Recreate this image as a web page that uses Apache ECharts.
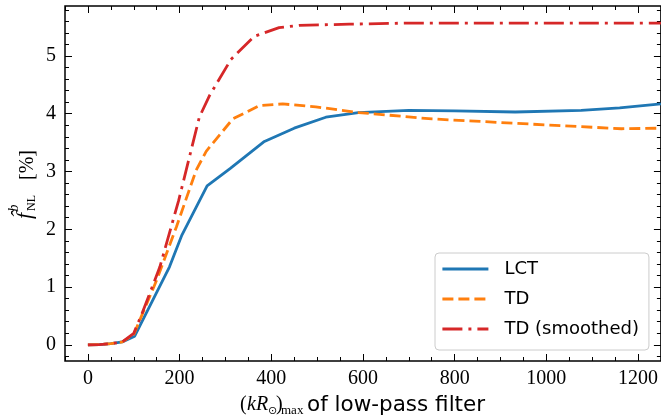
<!DOCTYPE html>
<html><head><meta charset="utf-8">
<script src="https://cdn.jsdelivr.net/npm/echarts@6/dist/echarts.min.js"></script>
<style>html,body{margin:0;padding:0;background:#fff}#c{width:661px;height:420px}</style>
</head><body><div id="c"></div>
<script>
// ---- data ----
const seriesNames = ['LCT', 'TD', 'TD (smoothed)'];

const lctX = [0, 25, 50, 75, 102, 178, 205, 260, 310, 385, 450, 519, 590, 700, 800, 932, 1076, 1160, 1250];
const lctY = [0, 0.005, 0.02, 0.05, 0.15, 1.35, 1.9, 2.75, 3.05, 3.52, 3.75, 3.94, 4.02, 4.06, 4.05, 4.03, 4.06, 4.1, 4.17];

const tdX = [0, 25, 50, 75, 100, 150, 193, 236, 258, 316, 374, 425, 497, 591, 751, 968, 1164, 1250];
const tdY = [0, 0.005, 0.02, 0.05, 0.18, 1.12, 2.04, 3.02, 3.35, 3.91, 4.14, 4.17, 4.12, 4.02, 3.91, 3.82, 3.74, 3.75];

const tdsX = [0, 25, 50, 75, 100, 117, 157, 198, 243, 265, 312, 363, 417, 461, 570, 700, 1250];
const tdsY = [0, 0.005, 0.02, 0.05, 0.2, 0.52, 1.35, 2.5, 3.94, 4.31, 4.94, 5.34, 5.49, 5.53, 5.55, 5.57, 5.57];

const xMajorTicks = [0, 200, 400, 600, 800, 1000, 1200];
const yMajorTicks = [0, 1, 2, 3, 4, 5];
const xMin = -50, xMax = 1250, yMin = -0.28, yMax = 5.865;

const xMinorTicks = [];
for (let v = -50; v <= 1250; v += 50) if (v % 200 !== 0) xMinorTicks.push(v);
const yMinorTicks = [];
for (let i = -1; i <= 29; i++) { if (i % 5 !== 0) yMinorTicks.push(+(i * 0.2).toFixed(1)); }

const colors = ['#1f77b4', '#ff7f0e', '#d62728'];
const dashes = ['solid', [11, 5], [20, 6, 3, 6]];

function pairs(xs, ys) { return xs.map((x, i) => [x, ys[i]]); }

const tickFont = { fontFamily: 'Liberation Serif', fontSize: 20, color: '#000', formatter: v => String(v) };

function xAx(pos, vals, len, label) {
  return {
    type: 'value', gridIndex: 0, position: pos, min: xMin, max: xMax,
    axisLine: { show: false, onZero: false }, splitLine: { show: false },
    axisTick: { show: true, inside: true, length: len, customValues: vals, lineStyle: { color: '#000', width: 1 } },
    axisLabel: label ? Object.assign({ show: true, customValues: vals, margin: 8 }, tickFont) : { show: false }
  };
}
function yAx(pos, vals, len, label) {
  return {
    type: 'value', gridIndex: 0, position: pos, min: yMin, max: yMax,
    axisLine: { show: false, onZero: false }, splitLine: { show: false },
    axisTick: { show: true, inside: true, length: len, customValues: vals, lineStyle: { color: '#000', width: 1 } },
    axisLabel: label ? Object.assign({ show: true, customValues: vals, margin: 9 }, tickFont) : { show: false }
  };
}

const chart = echarts.init(document.getElementById('c'), null, { renderer: 'canvas' });
const serif = 'Liberation Serif';
chart.setOption({
  animation: false,
  backgroundColor: '#fff',
  grid: { left: 65, top: 6, width: 597, height: 355, show: true, borderColor: '#000', borderWidth: 1.5, backgroundColor: 'transparent' },
  xAxis: [
    xAx('bottom', xMajorTicks, 7, true),
    xAx('bottom', xMinorTicks, 4, false),
    xAx('top', xMajorTicks, 7, false),
    xAx('top', xMinorTicks, 4, false)
  ],
  yAxis: [
    yAx('left', yMajorTicks, 7, true),
    yAx('left', yMinorTicks, 4, false),
    yAx('right', yMajorTicks, 7, false),
    yAx('right', yMinorTicks, 4, false)
  ],
  legend: {
    show: true, orient: 'vertical', left: 435, top: 253,
    itemWidth: 46, itemHeight: 20, itemGap: 10,
    padding: [6, 10, 11, 6],
    backgroundColor: 'rgba(255,255,255,0.8)', borderColor: '#cccccc', borderWidth: 1, borderRadius: 4,
    itemStyle: { opacity: 0 },
    lineStyle: { width: 2.8 },
    textStyle: { fontFamily: 'DejaVu Sans', fontSize: 18, lineHeight: 20, color: '#000', padding: [0, 0, 0, 11] },
    data: seriesNames
  },
  series: [
    [lctX, lctY], [tdX, tdY], [tdsX, tdsY]
  ].map((d, i) => ({
    name: seriesNames[i], type: 'line', xAxisIndex: 0, yAxisIndex: 0,
    data: pairs(d[0], d[1]), symbol: 'none', showSymbol: false, clip: true,
    lineStyle: { color: colors[i], width: 2.8, type: dashes[i], cap: 'butt' },
    itemStyle: { color: colors[i] }, z: 2 + i
  })),
  graphic: [
    {
      type: 'group', x: 28, y: 186, rotation: Math.PI / 2,
      children: [
        { type: 'text', x: -30, y: -3, style: { text: 'f\u0302', font: 'italic 22px ' + serif, fill: '#000', align: 'center', verticalAlign: 'middle' } },
        { type: 'text', x: -22, y: -14, style: { text: 'b', font: 'italic 14px ' + serif, fill: '#000', align: 'center', verticalAlign: 'middle' } },
        { type: 'text', x: -25, y: 4, style: { text: 'NL', font: '12px ' + serif, fill: '#000', align: 'left', verticalAlign: 'middle' } },
        { type: 'text', x: 36, y: 0, style: { text: '[%]', font: '20px ' + serif, fill: '#000', align: 'right', verticalAlign: 'middle' } }
      ]
    },
    { type: 'text', x: 240, y: 405, style: { text: '(', font: '20px ' + serif, fill: '#000', align: 'left', verticalAlign: 'middle' } },
    { type: 'text', x: 247, y: 405, style: { text: 'kR', font: 'italic 20px ' + serif, fill: '#000', align: 'left', verticalAlign: 'middle' } },
    { type: 'text', x: 268, y: 411, style: { text: '\u2299', font: '11px DejaVu Sans', fill: '#000', align: 'left', verticalAlign: 'middle' } },
    { type: 'text', x: 276, y: 405, style: { text: ')', font: '20px ' + serif, fill: '#000', align: 'left', verticalAlign: 'middle' } },
    { type: 'text', x: 281, y: 411, style: { text: 'max', font: '13px ' + serif, fill: '#000', align: 'left', verticalAlign: 'middle' } },
    { type: 'text', x: 307, y: 405, style: { text: 'of low-pass filter', font: '21.5px DejaVu Sans', fill: '#000', align: 'left', verticalAlign: 'middle' } }
  ]
});
</script></body></html>
